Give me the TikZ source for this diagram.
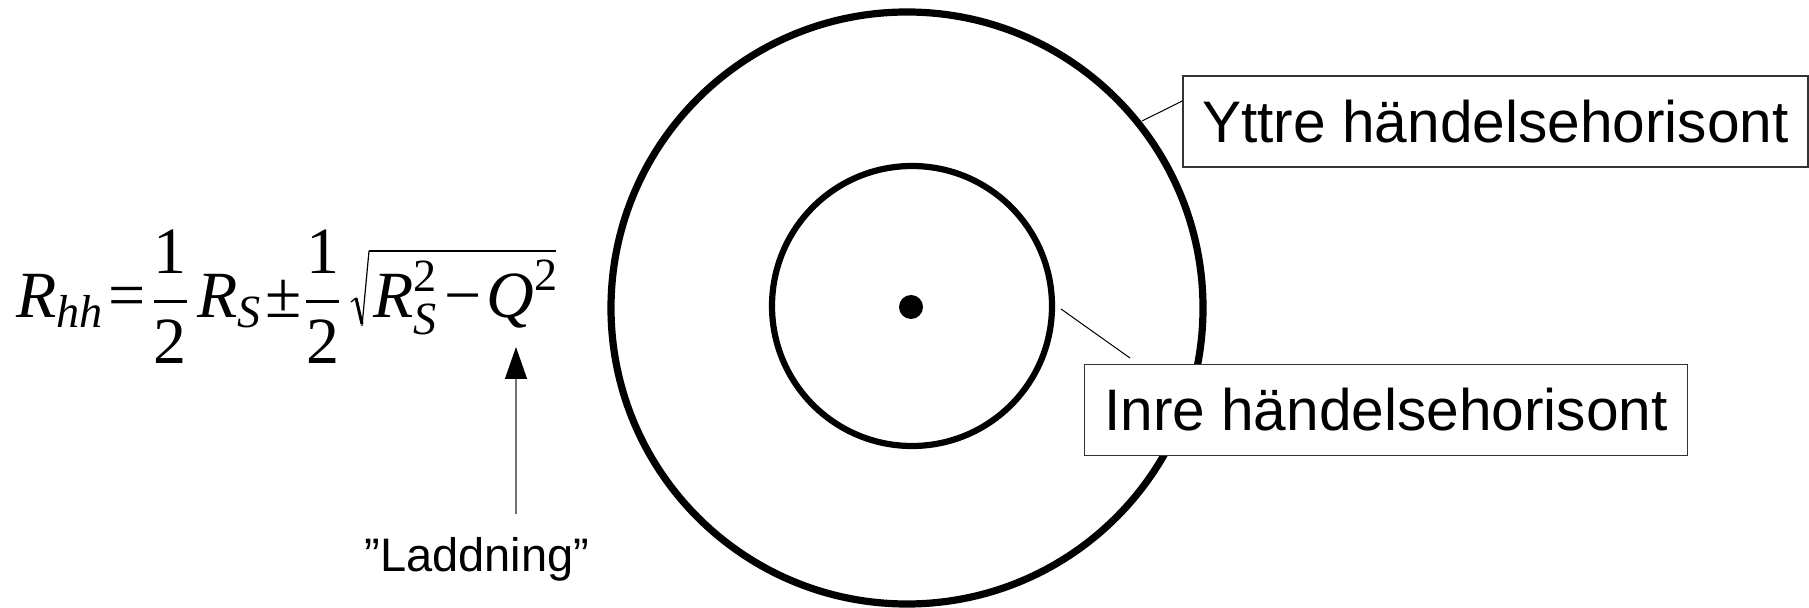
\documentclass[tikz,border=0pt]{standalone}
\usepackage{fontspec}
\usepackage{amsmath}
\setmainfont{Liberation Sans}
\newfontfamily\tms{Liberation Serif}
\usetikzlibrary{arrows.meta}
\newcommand{\ti}[1]{\text{\tms\itshape #1}}
\newcommand{\tu}[1]{\text{\tms #1}}
\tikzset{
  horizon/.style={draw=black, line width=3.6pt},
  innerhor/.style={draw=black, line width=3.1pt},
  lbl/.style={draw=black!80, line width=0.65pt, fill=white, inner sep=0pt,
    font=\fontsize{29.3pt}{35pt}\selectfont, minimum height=45.5pt},
  leader/.style={draw=black, line width=0.5pt},
  pointer/.style={draw=black!55, line width=0.7pt,
    -{Triangle[length=16pt,width=11pt,color=black]}},
  formula/.style={anchor=base west, inner sep=0pt},
}
\begin{document}
\begin{tikzpicture}[x=0.5pt,y=-0.5pt]
\useasboundingbox (0,0) rectangle (1809,608);
% horizons
\draw[horizon] (907,308) circle[radius=148pt];
\draw[innerhor] (912,306) circle[radius=70pt];
\fill (911,307) circle[radius=6pt];
\coordinate (outerpt) at (1142,121);
\coordinate (innerpt) at (1061,309);
% labels
\node[lbl, minimum width=312.5pt] (yt) at (1495.5,121.5) {Yttre händelsehorisont};
\node[lbl, minimum width=301.8pt] (in) at (1386,410) {Inre händelsehorisont};
\draw[leader] (outerpt) -- (yt.west |- 0,101);
\draw[leader] (innerpt) -- (1130,358);
% formula
\begin{scope}[shift={(15,318)}, scale=3.3, transform shape]
\node[formula] (eq) at (0,0)
  {$\displaystyle \ti{R}_{\ti{hh}}\kern0.4pt{\tu{=}}\frac{\tu{1}}{\tu{2}}\kern0.4pt\ti{R}_{\ti{S}}\kern0.2pt{\tu{±}}\kern-0.5pt\frac{\tu{1}}{\tu{2}}$};
\end{scope}
\begin{scope}[shift={(372,318)}, scale=3.3, transform shape]
\node[formula] (rad) at (0,0)
  {$\ti{R}_{\ti{S}}^{\tu{2}}\kern0.7pt{\tu{−}}\kern0.7pt\ti{Q}^{\tu{2}}$};
\end{scope}
% radical sign
\draw[line width=0.6pt, line cap=round, line join=round] (351,302) -- (356,298);
\draw[line width=1.5pt, line join=miter] (356,298) -- (362,324);
\draw[line width=0.6pt] (362,326) -- (369,251);
\draw[line width=1.4pt] (368.6,251) -- (556,251);
\coordinate (qtip) at (516,347);
\node[anchor=base, inner sep=0pt, font=\fontsize{23.5pt}{28pt}\selectfont] (lad) at (477,572) {”Laddning”};
\draw[pointer, shorten <=12pt] (lad.north -| qtip) -- (qtip);
\end{tikzpicture}
\end{document}
